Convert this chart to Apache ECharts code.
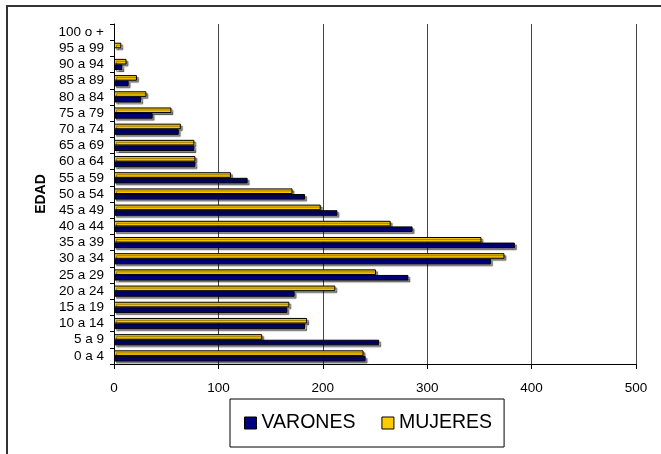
<!DOCTYPE html>
<html>
<head>
<meta charset="utf-8">
<script src="https://cdn.jsdelivr.net/npm/echarts@6/dist/echarts.min.js"></script>
<style>
html,body{margin:0;padding:0;background:#fff;}
#chart{width:661px;height:454px;}
</style>
</head>
<body>
<div id="chart"></div>
<script>
const categories = ['0 a 4','5 a 9','10 a 14','15 a 19','20 a 24','25 a 29','30 a 34','35 a 39','40 a 44','45 a 49','50 a 54','55 a 59','60 a 64','65 a 69','70 a 74','75 a 79','80 a 84','85 a 89','90 a 94','95 a 99','100 o +'];
const varones = [241,254,183,166,173,282,361,384,286,214,183,128,78,77,62,37,26,14,8,0,0];
const mujeres = [239,142,185,168,212,251,374,352,265,198,171,112,78,77,64,55,31,22,12,7,0];
const xTicks = [0,100,200,300,400,500];

const chart = echarts.init(document.getElementById('chart'));
const font = '"Liberation Sans", Arial, sans-serif';
const noZero = (arr) => arr.map(v => v === 0 ? null : v);
const barStyle = (c) => ({
  color: c, borderColor: '#000', borderWidth: 1,
  shadowColor: 'rgba(0,0,0,0.45)', shadowOffsetX: 2, shadowOffsetY: 2, shadowBlur: 1
});
chart.setOption({
  animation: false,
  backgroundColor: '#fff',
  graphic: [{
    type: 'rect', shape: {x: 7, y: 6, width: 720, height: 520},
    style: {fill: 'none', stroke: '#333', lineWidth: 2}, silent: true
  }],
  grid: {left: 114, right: 25, top: 24, bottom: 90, containLabel: false},
  legend: {
    left: 230, top: 399, width: 275, height: 52,
    padding: [14, 12, 14, 14],
    borderColor: '#000', borderWidth: 1,
    itemWidth: 12, itemHeight: 12, itemGap: 26,
    icon: 'rect',
    itemStyle: {borderColor: '#000', borderWidth: 1, shadowBlur: 0, shadowOffsetX: 0, shadowOffsetY: 0},
    textStyle: {fontFamily: font, fontSize: 19.5, color: '#000'},
    data: ['VARONES', 'MUJERES']
  },
  xAxis: {
    type: 'value', min: 0, max: 500, interval: 100,
    axisLine: {show: true, lineStyle: {color: '#000', width: 1}},
    axisTick: {show: true, length: 5, lineStyle: {color: '#000'}},
    axisLabel: {fontFamily: font, fontSize: 13.5, color: '#000', margin: 17,
      formatter: (v) => xTicks.includes(v) ? String(v) : ''},
    splitLine: {show: true, lineStyle: {color: '#444', width: 1}}
  },
  yAxis: {
    type: 'category', data: categories,
    name: 'EDAD', nameLocation: 'middle', nameGap: 66, nameRotate: 90,
    nameTextStyle: {fontFamily: font, fontSize: 14, fontWeight: 'bold', color: '#000'},
    axisLine: {show: true, lineStyle: {color: '#000', width: 1}},
    axisTick: {show: true, length: 4, lineStyle: {color: '#000'}},
    axisLabel: {fontFamily: font, fontSize: 13.5, color: '#000', margin: 10, interval: 0},
    splitLine: {show: false}
  },
  series: [
    {name: 'MUJERES', type: 'bar', data: noZero(mujeres), barGap: '0%', barCategoryGap: '31%', itemStyle: barStyle('#FFCC00')},
    {name: 'VARONES', type: 'bar', data: noZero(varones), barGap: '0%', barCategoryGap: '31%', itemStyle: barStyle('#000080')}
  ]
});
</script>
</body>
</html>
